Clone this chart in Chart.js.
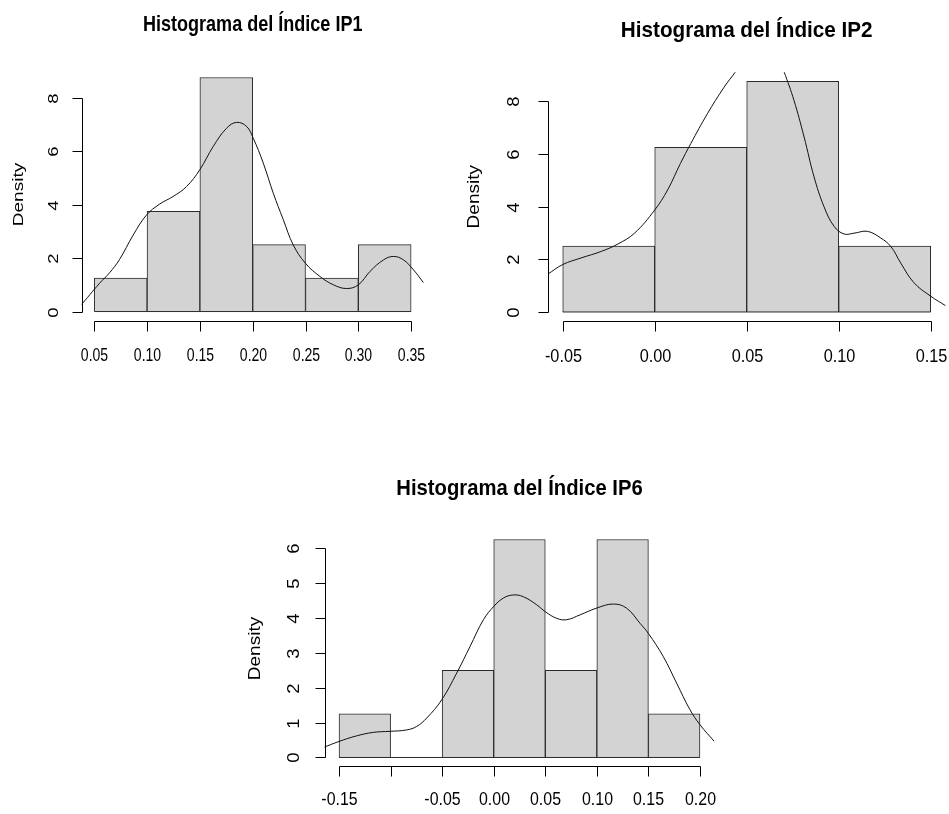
<!DOCTYPE html>
<html>
<head>
<meta charset="utf-8">
<script src="https://cdn.jsdelivr.net/npm/chart.js@4/dist/chart.umd.min.js"></script>
<style>
html,body{margin:0;padding:0;background:#fff;}
#wrap{position:relative;width:949px;height:814px;overflow:hidden;}
canvas{position:absolute;left:0;top:0;}
</style>
</head>
<body>
<div id="wrap">
<canvas id="c1" width="949" height="814"></canvas>
<canvas id="c2" width="949" height="814"></canvas>
<canvas id="c3" width="949" height="814"></canvas>
</div>
<script>
// ---------------- DATA ----------------
const ip1Title = 'Histograma del Índice IP1';
const ip1Breaks = [0.05, 0.10, 0.15, 0.20, 0.25, 0.30, 0.35];
const ip1Density = [1.25, 3.75, 8.75, 2.5, 1.25, 2.5];
const ip1XTickLabels = ['0.05', '0.10', '0.15', '0.20', '0.25', '0.30', '0.35'];
const ip1YTicks = [0, 2, 4, 6, 8];
const ip1CurveX = [0.0377, 0.0456, 0.0551, 0.0645, 0.0740, 0.0867, 0.0993, 0.112, 0.1246, 0.1373, 0.1499, 0.1626, 0.1752, 0.1847, 0.1942, 0.2005, 0.21, 0.2195, 0.229, 0.2384, 0.2498, 0.2637, 0.2764, 0.289, 0.3001, 0.3111, 0.3238, 0.3333, 0.3428, 0.3522, 0.3617];
const ip1CurveY = [0.25, 0.62, 1.06, 1.45, 1.95, 2.85, 3.6, 4.02, 4.30, 4.67, 5.30, 6.17, 6.85, 7.07, 6.92, 6.48, 5.55, 4.42, 3.43, 2.49, 1.81, 1.31, 1.0, 0.86, 1.0, 1.50, 1.93, 2.06, 1.93, 1.56, 1.08];

const ip2Title = 'Histograma del Índice IP2';
const ip2Breaks = [-0.05, 0.00, 0.05, 0.10, 0.15];
const ip2Density = [2.5, 6.25, 8.75, 2.5];
const ip2XTickLabels = ['-0.05', '0.00', '0.05', '0.10', '0.15'];
const ip2YTicks = [0, 2, 4, 6, 8];
const ip2CurveX = [-0.0584, -0.05, -0.040, -0.029, -0.020, -0.011, 0.0, 0.007, 0.014, 0.0196, 0.0286, 0.0377, 0.044, 0.050, 0.056, 0.062, 0.067, 0.0703, 0.0757, 0.0812, 0.0866, 0.092, 0.0975, 0.1029, 0.1083, 0.1156, 0.1228, 0.1283, 0.1337, 0.1409, 0.15, 0.1583];
const ip2CurveY = [1.42, 1.80, 2.05, 2.30, 2.58, 2.99, 3.87, 4.63, 5.64, 6.39, 7.52, 8.53, 9.12, 9.7, 10.1, 10.1, 9.7, 9.12, 8.03, 6.64, 5.13, 4.0, 3.25, 2.96, 2.99, 3.06, 2.81, 2.49, 1.86, 1.11, 0.60, 0.23];

const ip6Title = 'Histograma del Índice IP6';
const ip6Breaks = [-0.15, -0.10, -0.05, 0.00, 0.05, 0.10, 0.15, 0.20];
const ip6Density = [1.25, 0, 2.5, 6.25, 2.5, 6.25, 1.25];
const ip6XTickLabels = ['-0.15', '', '-0.05', '0.00', '0.05', '0.10', '0.15', '0.20'];
const ip6YTicks = [0, 1, 2, 3, 4, 5, 6];
const ip6CurveX = [-0.1649, -0.15, -0.1329, -0.1167, -0.1006, -0.0844, -0.0747, -0.065, -0.0505, -0.0359, -0.023, -0.01, 0.0, 0.0093, 0.019, 0.0287, 0.0416, 0.05, 0.0611, 0.0707, 0.0837, 0.0995, 0.116, 0.1289, 0.1418, 0.1499, 0.1645, 0.1774, 0.1903, 0.20, 0.2139];
const ip6CurveY = [0.29, 0.46, 0.62, 0.72, 0.75, 0.79, 0.89, 1.13, 1.65, 2.42, 3.18, 3.95, 4.33, 4.57, 4.66, 4.61, 4.38, 4.18, 3.99, 3.95, 4.09, 4.28, 4.40, 4.28, 3.85, 3.56, 2.89, 2.13, 1.37, 0.94, 0.46];

// ---------------- LAYOUT / STYLE ----------------
const PAGE_W = 949, PAGE_H = 814;
const FONT = '"Liberation Sans", Arial, Helvetica, sans-serif';
const panels = [
  { id: 'c1', title: ip1Title, breaks: ip1Breaks, dens: ip1Density, xl: ip1XTickLabels, yt: ip1YTicks, cx: ip1CurveX, cy: ip1CurveY,
    area: { l: 81.6, r: 423.8, t: 68.1, b: 320.9 }, titleY: 31, sxTick: 0.76, sxTitle: 0.82, yLabOff: 28, densOff: 63, xLabOff: 34 },
  { id: 'c2', title: ip2Title, breaks: ip2Breaks, dens: ip2Density, xl: ip2XTickLabels, yt: ip2YTicks, cx: ip2CurveX, cy: ip2CurveY,
    area: { l: 548.0, r: 945.4, t: 72.2, b: 321.2 }, titleY: 36.5, sxTick: 0.88, sxTitle: 0.94, yLabOff: 34, densOff: 74, xLabOff: 35 },
  { id: 'c3', title: ip6Title, breaks: ip6Breaks, dens: ip6Density, xl: ip6XTickLabels, yt: ip6YTicks, cx: ip6CurveX, cy: ip6CurveY,
    area: { l: 324.6, r: 714.4, t: 530.8, b: 766.2 }, titleY: 495, sxTick: 0.86, sxTitle: 0.92, yLabOff: 31, densOff: 70, xLabOff: 33 }
];

function drawText(ctx, s, x, y, font, sx, align, baseline, rotate) {
  ctx.save();
  ctx.translate(x, y);
  ctx.scale(sx, 1);
  if (rotate) ctx.rotate(-Math.PI / 2);
  ctx.font = font;
  ctx.textAlign = align;
  ctx.textBaseline = baseline;
  ctx.fillText(s, 0, 0);
  ctx.restore();
}

function rAxesPlugin(p) {
  return {
    id: 'rAxes',
    afterDraw(chart) {
      const ctx = chart.ctx, xs = chart.scales.x, ys = chart.scales.y, a = chart.chartArea;
      const TICK = 10;
      ctx.save();
      ctx.strokeStyle = '#000';
      ctx.fillStyle = '#000';
      ctx.lineWidth = 1;
      // y axis
      const x0 = Math.round(a.left) + 0.5;
      const yPix = p.yt.map(v => Math.round(ys.getPixelForValue(v)) + 0.5);
      ctx.beginPath();
      ctx.moveTo(x0, yPix[0]); ctx.lineTo(x0, yPix[yPix.length - 1]);
      yPix.forEach(y => { ctx.moveTo(x0, y); ctx.lineTo(x0 - TICK, y); });
      ctx.stroke();
      p.yt.forEach((v, i) => drawText(ctx, String(v), x0 - p.yLabOff, yPix[i], '18.5px ' + FONT, p.sxTick, 'center', 'middle', true));
      // x axis
      const y0 = Math.round(a.bottom) + 0.5;
      const xPix = p.breaks.map(v => Math.round(xs.getPixelForValue(v)) + 0.5);
      ctx.beginPath();
      ctx.moveTo(xPix[0], y0); ctx.lineTo(xPix[xPix.length - 1], y0);
      xPix.forEach(x => { ctx.moveTo(x, y0); ctx.lineTo(x, y0 + TICK); });
      ctx.stroke();
      p.xl.forEach((s, i) => { if (s) drawText(ctx, s, xPix[i], y0 + p.xLabOff, '18.5px ' + FONT, p.sxTick, 'center', 'middle', false); });
      // y label
      drawText(ctx, 'Density', x0 - p.densOff, (a.top + a.bottom) / 2, '19px ' + FONT, p.sxTick, 'center', 'middle', true);
      // title
      drawText(ctx, p.title, (a.left + a.right) / 2, p.titleY, 'bold 22px ' + FONT, p.sxTitle, 'center', 'alphabetic', false);
      ctx.restore();
    }
  };
}

function build(p) {
  const b = p.breaks;
  const range = b[b.length - 1] - b[0];
  const maxD = Math.max(...p.dens);
  const barData = p.dens.map((d, i) => ({ x: (b[i] + b[i + 1]) / 2, y: d }));
  const curve = p.cx.map((x, i) => ({ x: x, y: p.cy[i] }));
  const base = [{ x: b[0], y: 0 }, { x: b[b.length - 1], y: 0 }];
  new Chart(document.getElementById(p.id), {
    type: 'bar',
    data: {
      datasets: [
        { type: 'bar', data: barData, backgroundColor: '#D3D3D3', borderColor: '#2b2b2b', borderWidth: 1,
          barPercentage: 1, categoryPercentage: 1, order: 3 },
        { type: 'line', data: base, borderColor: '#2b2b2b', borderWidth: 1, pointRadius: 0, order: 2 },
        { type: 'line', data: curve, borderColor: '#111', borderWidth: 1, pointRadius: 0, tension: 0.4, fill: false, order: 1 }
      ]
    },
    options: {
      responsive: false,
      animation: false,
      devicePixelRatio: 1,
      layout: { padding: { left: p.area.l, right: PAGE_W - p.area.r, top: p.area.t, bottom: PAGE_H - p.area.b } },
      scales: {
        x: { type: 'linear', display: false, min: b[0] - 0.04 * range, max: b[b.length - 1] + 0.04 * range, offset: false },
        y: { type: 'linear', display: false, min: -0.04 * maxD, max: 1.04 * maxD }
      },
      plugins: { legend: { display: false }, tooltip: { enabled: false }, title: { display: false } }
    },
    plugins: [rAxesPlugin(p)]
  });
}
panels.forEach(build);
</script>
</body>
</html>
